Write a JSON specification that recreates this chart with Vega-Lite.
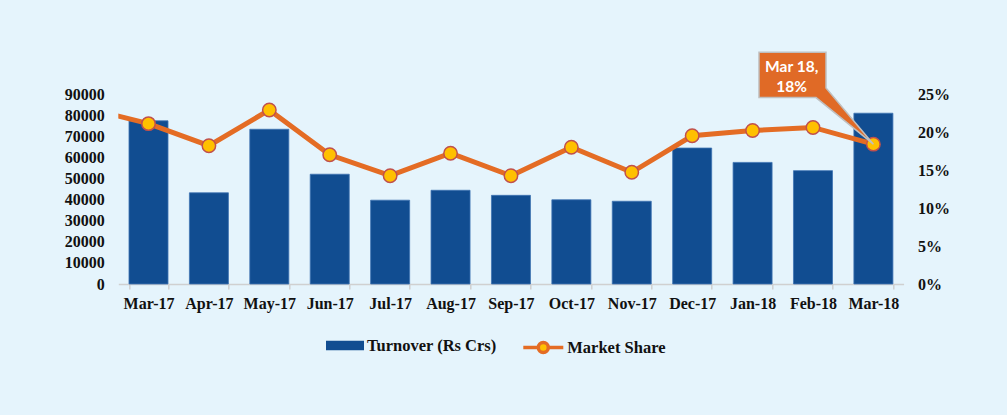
{
  "$schema": "https://vega.github.io/schema/vega-lite/v6.json",
  "autosize": {"type": "none"},
  "width": 785.3,
  "height": 190,
  "padding": {"left": 118.3, "top": 94, "right": 103.4, "bottom": 131},
  "background": "#E5F4FC",
  "config": {
    "view": {"stroke": null},
    "axis": {"grid": false, "labelFont": "Liberation Serif", "labelFontWeight": "bold", "labelFontSize": 16, "labelColor": "#111111"},
    "legend": {"labelFont": "Liberation Serif", "labelFontWeight": "bold", "labelFontSize": 16.5, "labelColor": "#111111", "padding": 0}
  },
  "data": {
    "values": [
      {"month": "Feb-17", "turnover": null, "share": 0.231},
      {"month": "Mar-17", "turnover": 77300, "share": 0.211},
      {"month": "Apr-17", "turnover": 43200, "share": 0.182},
      {"month": "May-17", "turnover": 73300, "share": 0.229},
      {"month": "Jun-17", "turnover": 52000, "share": 0.170},
      {"month": "Jul-17", "turnover": 39700, "share": 0.1425},
      {"month": "Aug-17", "turnover": 44400, "share": 0.172},
      {"month": "Sep-17", "turnover": 42000, "share": 0.1425},
      {"month": "Oct-17", "turnover": 39900, "share": 0.180},
      {"month": "Nov-17", "turnover": 39200, "share": 0.147},
      {"month": "Dec-17", "turnover": 64400, "share": 0.195},
      {"month": "Jan-18", "turnover": 57600, "share": 0.202},
      {"month": "Feb-18", "turnover": 53700, "share": 0.206},
      {"month": "Mar-18", "turnover": 80900, "share": 0.184}
    ]
  },
  "layer": [
    {
      "transform": [{"filter": "datum.turnover != null"}],
      "mark": {"type": "bar", "stroke": "#3F74B2", "strokeWidth": 0.8},
      "encoding": {
        "x": {
          "field": "month", "type": "nominal", "sort": null,
          "scale": {"paddingInner": 0.354, "paddingOuter": 0.177},
          "axis": {"title": null, "labelAngle": 0, "domainColor": "#D0D0D0", "domainWidth": 1.5, "tickColor": "#D0D0D0", "tickWidth": 1.5, "tickSize": 5, "tickBand": "extent", "labelPadding": 6}
        },
        "y": {
          "field": "turnover", "type": "quantitative",
          "scale": {"domain": [0, 90000]},
          "axis": {"title": null, "values": [0,10000,20000,30000,40000,50000,60000,70000,80000,90000], "format": "d", "domain": false, "ticks": false, "labelPadding": 14}
        },
        "color": {
          "datum": "Turnover (Rs Crs)", "type": "nominal",
          "scale": {"range": ["#114D91"]},
          "legend": {"title": null, "orient": "none", "legendX": 207.7, "legendY": 232.5, "symbolType": "M-1,-0.25H1V0.25H-1Z", "symbolSize": 1444, "symbolStrokeWidth": 0, "labelOffset": 3}
        }
      }
    },
    {
      "encoding": {
        "x": {
          "field": "month", "type": "nominal", "sort": null,
          "scale": {"type": "point", "padding": 0, "range": [-30.2, 755.1]},
          "axis": null
        },
        "y": {
          "field": "share", "type": "quantitative",
          "scale": {"domain": [0, 0.25]},
          "axis": {"title": null, "orient": "right", "values": [0, 0.05, 0.1, 0.15, 0.2, 0.25], "format": ".0%", "domain": false, "ticks": false, "labelPadding": 14}
        }
      },
      "layer": [
        {
          "mark": {"type": "line", "strokeWidth": 5, "clip": true},
          "encoding": {
            "stroke": {
              "datum": "Market Share", "type": "nominal",
              "scale": {"range": ["#E46C24"]},
              "legend": {"title": null, "orient": "none", "legendX": 403, "legendY": 231.5, "symbolType": "M-1,0H-0.25M0.25,0H1M0.25,0A0.25,0.25,0,1,1,-0.25,0A0.25,0.25,0,1,1,0.25,0Z", "symbolSize": 1600, "symbolStrokeWidth": 3.5, "symbolFillColor": "#FFC000", "labelOffset": 2}
            }
          }
        },
        {
          "mark": {"type": "point", "shape": "circle", "filled": true, "size": 180, "fill": "#FFC000", "stroke": "#C0504D", "strokeWidth": 1.5, "opacity": 1, "clip": true},
          "encoding": {}
        },
        {
          "transform": [{"filter": "datum.month == 'Mar-18'"}],
          "mark": {"type": "point", "shape": "M-114.4,-92H-47.4V-56.3L0,0L-57.4,-46.6H-114.4Z", "size": 4, "filled": true, "fill": "#E06A26", "stroke": "#BFBFBF", "strokeWidth": 1.5, "opacity": 1},
          "encoding": {}
        },
        {
          "transform": [{"filter": "datum.month == 'Mar-18'"}],
          "mark": {"type": "text", "text": ["Mar 18,", "18%"], "font": "Lato", "fontWeight": "bold", "fontSize": 15.5, "fill": "#FFFFFF", "align": "center", "baseline": "middle", "lineHeight": 20, "dx": -81.7, "dy": -77.6},
          "encoding": {}
        }
      ]
    }
  ],
  "resolve": {"scale": {"x": "independent", "y": "independent"}}
}
